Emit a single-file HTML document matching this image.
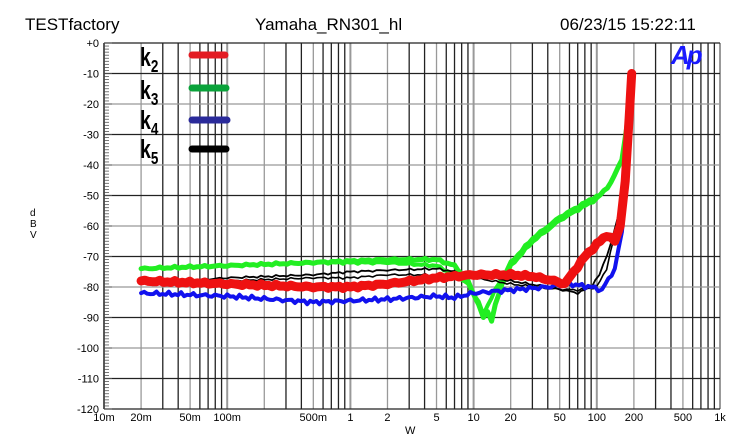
<!DOCTYPE html>
<html><head><meta charset="utf-8"><style>
body{margin:0;background:#fff;width:735px;height:443px;overflow:hidden;font-family:"Liberation Sans",Arial,sans-serif}
svg text{font-family:"Liberation Sans",Arial,sans-serif}
</style></head><body>
<svg id="s" width="735" height="443" viewBox="0 0 735 443" xmlns="http://www.w3.org/2000/svg">
<text x="25" y="30" font-size="17" fill="#000">TESTfactory</text>
<text x="255" y="30" font-size="17" fill="#000">Yamaha_RN301_hl</text>
<text x="560" y="30" font-size="17" fill="#000">06/23/15 15:22:11</text>
<g id="grid"></g>
<g id="data" fill="none" stroke-linejoin="round" stroke-linecap="round"></g>
<text x="671" y="64" font-size="26" font-weight="bold" font-style="italic" fill="#1a1aff" letter-spacing="-3">Ap</text>
<g font-family="Liberation Sans" font-weight="bold">
<text x="140" y="66" font-size="26" transform="scale(0.75,1)" transform-origin="140 66">k<tspan font-size="18" dy="6">2</tspan></text>
<text x="140" y="99" font-size="26" transform="scale(0.75,1)" transform-origin="140 99">k<tspan font-size="18" dy="6">3</tspan></text>
<text x="140" y="129" font-size="26" transform="scale(0.75,1)" transform-origin="140 129">k<tspan font-size="18" dy="6">4</tspan></text>
<text x="140" y="158" font-size="26" transform="scale(0.75,1)" transform-origin="140 158">k<tspan font-size="18" dy="6">5</tspan></text>
</g>
<line x1="192" y1="55" x2="225" y2="55" stroke="#e31c23" stroke-width="7" stroke-linecap="round"/>
<line x1="192" y1="88" x2="226" y2="88" stroke="#0aa23a" stroke-width="7" stroke-linecap="round"/>
<line x1="192" y1="120" x2="227" y2="120" stroke="#2a2a9a" stroke-width="7" stroke-linecap="round"/>
<line x1="192" y1="149" x2="226" y2="149" stroke="#000" stroke-width="7" stroke-linecap="round"/>
<text x="30" y="216" font-size="10">d</text>
<text x="30" y="227" font-size="10">B</text>
<text x="30" y="238" font-size="10">V</text>
<text x="405" y="434" font-size="11">W</text>
</svg>
<script>
const L=104,R=720,T=43,B=409,D=(R-L)/5;
const X=w=>L+D*Math.log10(w/0.01), Y=db=>T-db*(B-T)/120;
const g=document.getElementById('grid');let h='';
for(let e=-2;e<3;e++)for(let m=1;m<10;m++){const x=X(m*Math.pow(10,e));if(x>R+0.5)continue;
 const c=(m==1||m==2||m==5)?'#999':'#222';h+=`<line x1="${x}" y1="${T}" x2="${x}" y2="${B}" stroke="${m==1?'#999':c}" stroke-width="${m==1?2:1.3}"/>`;}
h+=`<line x1="${R}" y1="${T}" x2="${R}" y2="${B}" stroke="#999" stroke-width="2"/>`;
for(let d=0;d>=-120;d-=10){const y=Y(d);h+=`<line x1="${L}" y1="${y}" x2="${R}" y2="${y}" stroke="${d==0||d==-120?'#222':(d%20==0?'#999':'#222')}" stroke-width="1.3"/>`;
 h+=`<text x="${L-5}" y="${y+4}" font-size="11" text-anchor="end">${d==0?'+0':d}</text>`;}
for(let d=0;d>=-120;d--){const y=Y(d);h+=`<line x1="${L}" y1="${y}" x2="${L+(d%10==0?8:5)}" y2="${y}" stroke="#555" stroke-width="0.8"/>`;}
h+=`<line x1="${L}" y1="${T}" x2="${L}" y2="${B}" stroke="#444" stroke-width="1.5"/>`;
const lab=[[0.01,'10m'],[0.02,'20m'],[0.05,'50m'],[0.1,'100m'],[0.5,'500m'],[1,'1'],[2,'2'],[5,'5'],[10,'10'],[20,'20'],[50,'50'],[100,'100'],[200,'200'],[500,'500'],[1000,'1k']];
lab.forEach(([w,t])=>h+=`<text x="${X(w)}" y="421" font-size="11" text-anchor="middle">${t}</text>`);
g.innerHTML=h;
function P(pts,noise){let s='';let seed=1;pts.forEach((p,i)=>{let n=0;if(noise&&i>0&&i<pts.length-1){}s+=(i?'L':'M')+X(p[0]).toFixed(1)+','+Y(p[1]).toFixed(1);});return s;}
function interp(pts,amp,step){const out=[];let k=0;for(let i=0;i<pts.length-1;i++){const [w0,d0]=pts[i],[w1,d1]=pts[i+1];const n=Math.max(1,Math.round(Math.log10(w1/w0)/step));for(let j=0;j<n;j++){const t=j/n;const w=w0*Math.pow(w1/w0,t);let d=d0+(d1-d0)*t;d+=amp*Math.sin(k*2.3)*Math.cos(k*0.7);k++;out.push([w,d]);}}out.push(pts[pts.length-1]);return out;}
const data=document.getElementById('data');let o='';
const green1=[[0.02,-74],[0.1,-73],[0.5,-72],[1,-71.5],[2,-71],[5,-71],[7,-73],[9,-78],[11,-86],[12,-90],[13,-88],[14,-91],[15,-86],[17,-79],[20,-73],[30,-65],[50,-58],[100,-51],[130,-46],[160,-38],[175,-28],[185,-18]];
const green2=[[0.02,-74],[0.1,-73],[0.5,-72],[1,-72],[2,-72],[5,-73],[7,-76],[9,-79],[11,-85],[12,-89],[13,-86],[15,-81],[17,-77],[20,-72],[30,-64],[50,-57],[100,-50]];
const red=[[0.02,-78],[0.1,-79],[0.5,-80],[1,-80],[2,-79],[5,-77],[10,-76],[20,-76],[30,-76.5],[45,-78],[55,-79],[65,-75],[80,-70],[100,-66],[120,-63],[140,-65],[155,-60],[170,-45],[183,-25],[192,-10]];
const blue=[[0.02,-82],[0.1,-83],[0.5,-85],[1,-84.5],[2,-84],[5,-83],[7,-83.5],[10,-82],[20,-81],[40,-80],[60,-79],[90,-80],[110,-81],[140,-74],[160,-62],[180,-40],[195,-14]];
const blk1=[[0.02,-79],[0.1,-77],[0.5,-76],[1,-75],[2,-74.5],[5,-74],[7,-75],[10,-76],[20,-78],[40,-80],[70,-82],[90,-80],[105,-76],[130,-66],[160,-52]];
const blk2=[[0.02,-78],[0.1,-78],[0.5,-77],[1,-77],[2,-76],[5,-76],[10,-77],[20,-79],[40,-80.5],[70,-81],[100,-80],[120,-74],[150,-58]];
o+=`<path d="${P(interp(green2,0.4,0.03))}" stroke="#22ee22" stroke-width="4"/>`;
o+=`<path d="${P(interp(green1,0.4,0.03))}" stroke="#22ee22" stroke-width="5"/>`;
o+=`<path d="${P(interp(blk2,0.4,0.03))}" stroke="#000" stroke-width="1.6"/>`;
o+=`<path d="${P(interp(blk1,0.4,0.03))}" stroke="#000" stroke-width="1.8"/>`;
o+=`<path d="${P(interp(blue,0.8,0.025))}" stroke="#1111ee" stroke-width="4"/>`;
o+=`<path d="${P(interp(red,0.5,0.03))}" stroke="#ee1111" stroke-width="9"/>`;
data.innerHTML=o;
</script>
</body></html>
